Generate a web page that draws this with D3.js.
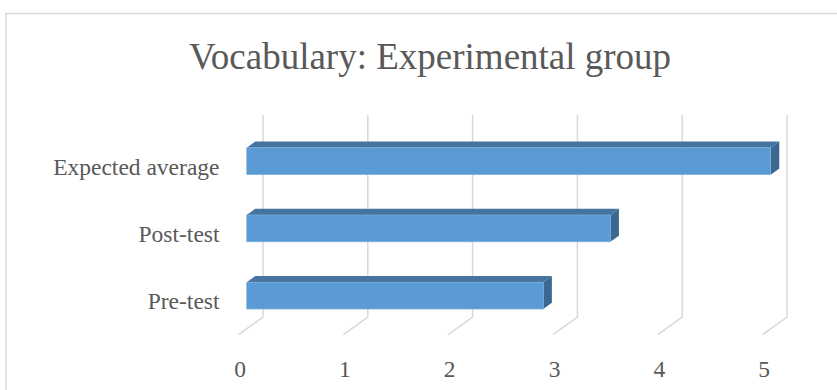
<!DOCTYPE html>
<html>
<head>
<meta charset="utf-8">
<script src="https://cdn.jsdelivr.net/npm/d3@7"></script>
<style>
  html, body { margin: 0; padding: 0; background: #ffffff; }
  svg { display: block; }
</style>
</head>
<body>
<svg id="chart" width="837" height="390"></svg>
<script>
// Vocabulary scores for the experimental group
const categories = ["Expected average", "Post-test", "Pre-test"];
const scores = [5, 3.47, 2.83];
const tickValues = [0, 1, 2, 3, 4, 5];
const titleText = "Vocabulary: Experimental group";

const svg = d3.select("#chart");
const font = "'Liberation Serif', 'Times New Roman', serif";
const textColor = "#595959";
const gridColor = "#d9d9d9";

// Chart frame (runs off the right and bottom edges)
svg.append("rect")
  .attr("x", 6).attr("y", 13.5)
  .attr("width", 900).attr("height", 500)
  .attr("fill", "#ffffff")
  .attr("stroke", gridColor).attr("stroke-width", 1.5);

// Title
svg.append("text")
  .attr("x", 430).attr("y", 69)
  .attr("text-anchor", "middle")
  .attr("font-family", font).attr("font-size", 37)
  .attr("fill", textColor)
  .text(titleText);

// Oblique 3D projection: back wall, floor depth vector
const wallTop = 115, wallBottom = 317;
const depth = { dx: -24.4, dy: 17.6 };     // back wall -> front edge of floor
const barFront = 0.668, barBack = 0.316;   // bar position along the depth

const xBack = d3.scaleLinear().domain([0, 5]).range([263, 787]);
const xFront = v => xBack(v) + depth.dx * barFront;

const y = d3.scaleBand()
  .domain(categories)
  .range([127.6, 329.2])
  .paddingInner(0.6)
  .paddingOuter(0.3);

// Gridlines on the back wall and floor
const grid = svg.append("g");
tickValues.forEach(v => {
  const x0 = xBack(v);
  grid.append("path")
    .attr("d", d3.line()([[x0, wallTop], [x0, wallBottom], [x0 + depth.dx, wallBottom + depth.dy]]))
    .attr("fill", "none")
    .attr("stroke", gridColor)
    .attr("stroke-width", 1.5);
});

// Value axis labels along the front edge of the floor
const xAxis = d3.axisBottom(d3.scaleLinear().domain([0, 5]).range([xBack(0) + depth.dx + 1, xBack(5) + depth.dx + 1]))
  .tickValues(tickValues)
  .tickSize(0)
  .tickPadding(0)
  .tickFormat(d3.format("d"));
const xg = svg.append("g")
  .attr("transform", `translate(0, 360.5)`)
  .call(xAxis);
xg.select(".domain").remove();
xg.selectAll("text")
  .attr("font-family", font).attr("font-size", 23.5)
  .attr("fill", textColor)
  .attr("dy", "0.71em");

// Category labels
svg.append("g").selectAll("text")
  .data(categories)
  .join("text")
  .attr("x", 219.5)
  .attr("y", d => y(d) + y.bandwidth() / 2 + 13.5)
  .attr("text-anchor", "end")
  .attr("font-family", font).attr("font-size", 23.5)
  .attr("fill", textColor)
  .text(d => d);

// 3D bars: front face, top face and right side face
const off = { dx: -depth.dx * (barFront - barBack), dy: -depth.dy * (barFront - barBack) };
const bars = svg.append("g").selectAll("g")
  .data(categories.map((c, i) => ({ c, v: scores[i] })))
  .join("g");

bars.append("path")   // top face
  .attr("d", d => {
    const x0 = xFront(0), x1 = xFront(d.v), t = y(d.c);
    return d3.line()([[x0, t], [x0 + off.dx, t + off.dy], [x1 + off.dx, t + off.dy], [x1, t]]) + "Z";
  })
  .attr("fill", "#4674a0");

bars.append("path")   // side face
  .attr("d", d => {
    const x1 = xFront(d.v), t = y(d.c), b = t + y.bandwidth();
    return d3.line()([[x1, t], [x1 + off.dx, t + off.dy], [x1 + off.dx, b + off.dy], [x1, b]]) + "Z";
  })
  .attr("fill", "#3b6891");

bars.append("rect")   // front face
  .attr("x", xFront(0))
  .attr("y", d => y(d.c))
  .attr("width", d => xFront(d.v) - xFront(0))
  .attr("height", y.bandwidth())
  .attr("fill", "#5b9bd5")
  .attr("stroke", "#7fb0de")
  .attr("stroke-width", 0.6);
</script>
</body>
</html>
